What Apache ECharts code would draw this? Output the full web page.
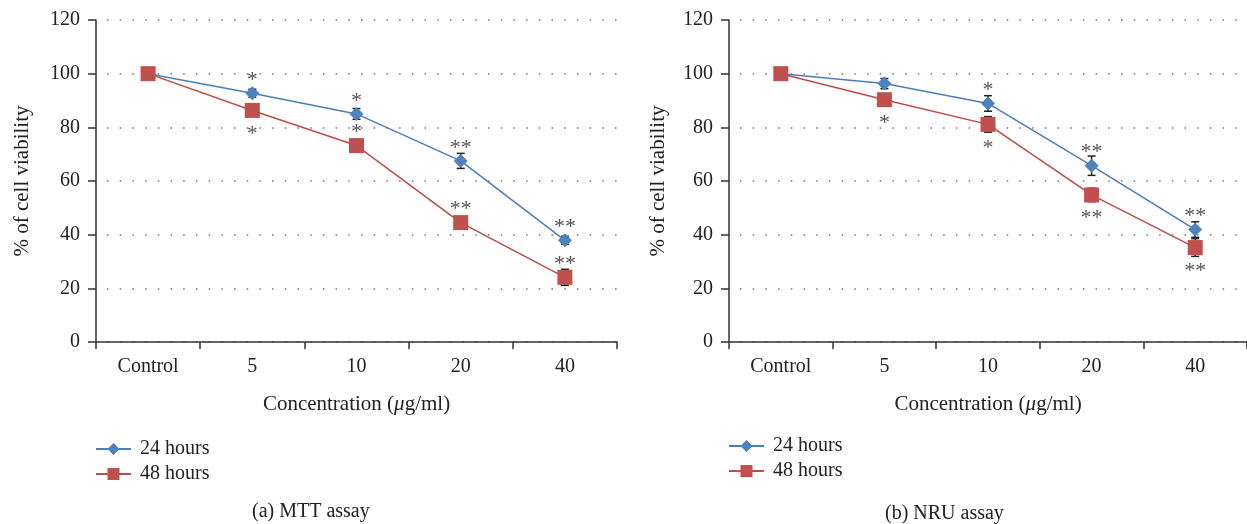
<!DOCTYPE html>
<html>
<head>
<meta charset="utf-8">
<script src="https://cdn.jsdelivr.net/npm/echarts@6/dist/echarts.min.js"></script>
<style>
  html, body { margin: 0; padding: 0; background: #fff; }
  #chart { width: 1247px; height: 524px; }
</style>
</head>
<body>
<div id="chart"></div>
<script>
const categories = ['Control', '5', '10', '20', '40']

// (a) MTT assay
const mtt24 = [100, 92.7, 85.0, 67.5, 37.9]
const mtt24Err = [0, 1.5, 2.0, 2.8, 1.5]
const mtt24Stars = ['', '*', '*', '**', '**']
const mtt24StarPos = ['top', 'top', 'top', 'top', 'top']
const mtt48 = [100, 86.3, 73.2, 44.5, 24.1]
const mtt48Err = [0, 1.0, 1.0, 1.5, 3.0]
const mtt48Stars = ['', '*', '*', '**', '**']
const mtt48StarPos = ['top', 'bottom', 'top', 'top', 'top']

// (b) NRU assay
const nru24 = [100, 96.3, 88.9, 65.7, 41.9]
const nru24Err = [0, 1.9, 2.9, 3.6, 2.9]
const nru24Stars = ['', '', '*', '**', '**']
const nru24StarPos = ['top', 'top', 'top', 'top', 'top']
const nru48 = [100, 90.3, 81.1, 54.8, 35.2]
const nru48Err = [0, 1.0, 2.9, 2.5, 3.3]
const nru48Stars = ['', '*', '*', '**', '**']
const nru48StarPos = ['bottom', 'bottom', 'bottom', 'bottom', 'bottom']

const yTicks = { min: 0, max: 120, interval: 20 }

const BLUE = '#4f81bd'
const BLUE_LINE = '#4a7ebb'
const RED = '#c0504d'
const RED_LINE = '#be4b48'
const FONT = 'Liberation Serif'
const TEXT = '#222'

const chart = echarts.init(document.getElementById('chart'))

const buildPoints = (values, stars, pos) => values.map((v, i) => ({
  value: v,
  label: {
    show: !!stars[i],
    formatter: stars[i],
    position: pos[i],
    distance: pos[i] === 'top' ? -2 : 8
  }
}))

const lineSeries = (name, idx, values, stars, pos, color, lineColor, symbol, size) => ({
  name,
  type: 'line',
  xAxisIndex: idx,
  yAxisIndex: idx,
  data: buildPoints(values, stars, pos),
  symbol,
  symbolSize: size,
  z: 3,
  itemStyle: { color, opacity: 1 },
  lineStyle: { color: lineColor, width: 1.5 },
  label: {
    fontFamily: FONT,
    fontSize: 22,
    color: '#555',
    lineHeight: 16
  },
  emphasis: { disabled: true },
  animation: false
})

const errorSeries = (idx, values, errs) => ({
  type: 'custom',
  xAxisIndex: idx,
  yAxisIndex: idx,
  z: 2,
  silent: true,
  animation: false,
  data: values.map((v, i) => [i, v, errs[i]]),
  encode: { x: 0, y: 1 },
  renderItem: (params, api) => {
    const x = api.value(0)
    const v = api.value(1)
    const e = api.value(2)
    if (!e) return null
    const top = api.coord([x, v + e])
    const bot = api.coord([x, v - e])
    const w = 4
    const style = { stroke: '#222', lineWidth: 1.5 }
    return {
      type: 'group',
      children: [
        { type: 'line', shape: { x1: top[0], y1: top[1], x2: bot[0], y2: bot[1] }, style },
        { type: 'line', shape: { x1: top[0] - w, y1: top[1], x2: top[0] + w, y2: top[1] }, style },
        { type: 'line', shape: { x1: bot[0] - w, y1: bot[1], x2: bot[0] + w, y2: bot[1] }, style }
      ]
    }
  }
})

const xAxisCfg = (idx) => ({
  type: 'category',
  gridIndex: idx,
  data: categories,
  boundaryGap: true,
  name: 'Concentration ({i|μ}g/ml)',
  nameLocation: 'middle',
  nameGap: 52,
  nameMoveOverlap: false,
  nameTextStyle: {
    fontFamily: FONT, fontSize: 21, color: TEXT,
    rich: { i: { fontFamily: FONT, fontSize: 21, fontStyle: 'italic', color: TEXT } }
  },
  axisLine: { lineStyle: { color: '#333', width: 1.5 } },
  axisTick: { show: true, length: 7, lineStyle: { color: '#333', width: 1.5 } },
  axisLabel: { fontFamily: FONT, fontSize: 20, color: TEXT, margin: 15 },
  splitLine: { show: false }
})

const yAxisCfg = (idx, gap) => ({
  type: 'value',
  gridIndex: idx,
  min: yTicks.min,
  max: yTicks.max,
  interval: yTicks.interval,
  name: '% of cell viability',
  nameLocation: 'middle',
  nameGap: gap,
  nameMoveOverlap: false,
  nameTextStyle: { fontFamily: FONT, fontSize: 21, color: TEXT },
  axisLine: { show: true, lineStyle: { color: '#333', width: 1.5 } },
  axisTick: { show: true, length: 8, lineStyle: { color: '#333', width: 1.5 } },
  axisLabel: { fontFamily: FONT, fontSize: 20, color: TEXT, margin: 16 },
  splitLine: {
    show: true,
    lineStyle: { color: '#777', width: 1.5, type: [1.5, 11.2], dashOffset: -11 }
  }
})

const legendCfg = (left, top) => ({
  left,
  top,
  orient: 'vertical',
  itemWidth: 35,
  itemHeight: 15,
  itemGap: 5,
  data: ['24 hours', '48 hours'],
  textStyle: { fontFamily: FONT, fontSize: 20, color: TEXT, padding: [0, 0, 0, 4] },
  selectedMode: false
})

const option = {
  backgroundColor: '#fff',
  grid: [
    { left: 96, top: 20, width: 521, height: 322 },
    { left: 729, top: 20, width: 523, height: 322 }
  ],
  xAxis: [xAxisCfg(0), xAxisCfg(1)],
  yAxis: [yAxisCfg(0, 63), yAxisCfg(1, 60)],
  legend: [legendCfg(90, 434), legendCfg(723, 431)],
  graphic: [
    { type: 'text', left: 252, top: 502, style: { text: '(a) MTT assay', fontFamily: FONT, fontSize: 20, fill: TEXT } },
    { type: 'text', left: 885, top: 504, style: { text: '(b) NRU assay', fontFamily: FONT, fontSize: 20, fill: TEXT } }
  ],
  series: [
    errorSeries(0, mtt24, mtt24Err),
    errorSeries(0, mtt48, mtt48Err),
    lineSeries('24 hours', 0, mtt24, mtt24Stars, mtt24StarPos, BLUE, BLUE_LINE, 'diamond', 14),
    lineSeries('48 hours', 0, mtt48, mtt48Stars, mtt48StarPos, RED, RED_LINE, 'rect', 15),
    errorSeries(1, nru24, nru24Err),
    errorSeries(1, nru48, nru48Err),
    lineSeries('24 hours', 1, nru24, nru24Stars, nru24StarPos, BLUE, BLUE_LINE, 'diamond', 14),
    lineSeries('48 hours', 1, nru48, nru48Stars, nru48StarPos, RED, RED_LINE, 'rect', 15)
  ]
}

chart.setOption(option)
</script>
</body>
</html>
